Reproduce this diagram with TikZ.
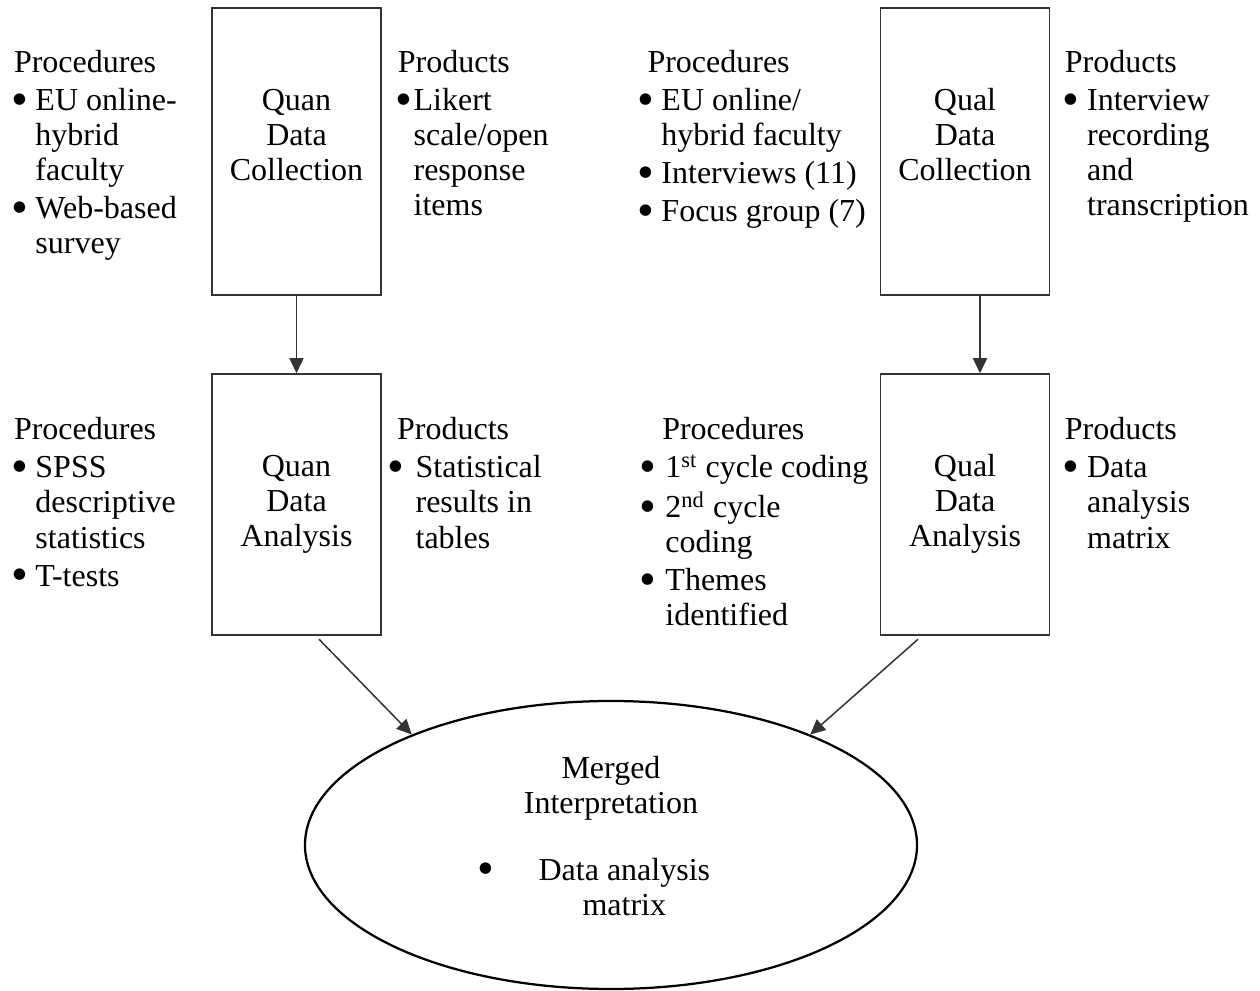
\documentclass[tikz,border=0pt]{standalone}
\usepackage{fontspec}
\setmainfont{Liberation Serif}
\usepackage{graphicx}
\usepackage{tikz}
\usetikzlibrary{arrows.meta}
\usetikzlibrary{shapes.geometric}
\usetikzlibrary{positioning}
\newcommand{\dotmark}{\makebox[0.35em][c]{\raisebox{-0.14em}{\scalebox{1.5}{\textbullet}}}}
\tikzset{
    stage/.style={draw=black!80, line width=.6pt, rectangle, minimum width=67.6pt, inner sep=0pt},
    stagetext/.style={inner sep=0pt, anchor=base},
    listtext/.style={inner sep=0pt, anchor=base west},
    merge/.style={draw=black, line width=.9pt, ellipse, inner sep=0pt,
        minimum width=244.8pt, minimum height=115.2pt},
    flow/.style={draw=black!80, line width=.6pt, -{Triangle[length=6pt,width=5.6pt]}},
}

\begin{document}
\begin{tikzpicture}[x=0.4pt, y=-0.4pt, font=\fontsize{12.8}{14}\selectfont]
		\useasboundingbox (0,0) rectangle (1260,991);

		% quantitative strand
		\node[stage, minimum height=114.8pt] (quancol) at (296.5,151.5) {};
		\node[stage, minimum height=104.4pt] (quanana) at (296.5,504.5) {};
		\node[stagetext] (quancoltxt) at (296.5,110.5) {\begin{tabular}[t]{@{}c@{}}Quan\\Data\\Collection\end{tabular}};
		\node[stagetext] (quananatxt) at (296.5,476.5) {\begin{tabular}[t]{@{}c@{}}Quan\\Data\\Analysis\end{tabular}};

		\node[listtext] (quancolproc) at (13.5,73) {\begin{tabular}[t]{@{}l@{\hspace{4.1pt}}l@{}}
			\multicolumn{2}{@{}l@{}}{Procedures}\\[1.2pt]
			\dotmark & EU online-\\
			& hybrid\\
			& faculty\\[1.2pt]
			\dotmark & Web-based\\
			& survey
		\end{tabular}};
		\node[listtext] (quancolprod) at (397.4,73) {\begin{tabular}[t]{@{}l@{\hspace{1.8pt}}l@{}}
			\multicolumn{2}{@{}l@{}}{Products}\\[1.2pt]
			\dotmark & Likert\\
			& scale/open\\
			& response\\
			& items
		\end{tabular}};
		\node[listtext] (quananaproc) at (13.5,440) {\begin{tabular}[t]{@{}l@{\hspace{4.1pt}}l@{}}
			\multicolumn{2}{@{}l@{}}{Procedures}\\[1.2pt]
			\dotmark & SPSS\\
			& descriptive\\
			& statistics\\[1.2pt]
			\dotmark & T-tests
		\end{tabular}};
		\node[listtext] (quananaprod) at (389.4,440) {\begin{tabular}[t]{@{}l@{\hspace{5.8pt}}l@{}}
			\multicolumn{2}{@{\hspace{2.9pt}}l@{}}{Products}\\[1.2pt]
			\dotmark & Statistical\\
			& results in\\
			& tables
		\end{tabular}};

		% qualitative strand
		\node[stage, minimum height=114.8pt] (qualcol) at (965,151.5) {};
		\node[stage, minimum height=104.4pt] (qualana) at (965,504.5) {};
		\node[stagetext] (qualcoltxt) at (965,110.5) {\begin{tabular}[t]{@{}c@{}}Qual\\Data\\Collection\end{tabular}};
		\node[stagetext] (qualanatxt) at (965,476.5) {\begin{tabular}[t]{@{}c@{}}Qual\\Data\\Analysis\end{tabular}};

		\node[listtext] (qualcolproc) at (640,73) {\begin{tabular}[t]{@{}l@{\hspace{3.9pt}}l@{}}
			\multicolumn{2}{@{\hspace{2.8pt}}l@{}}{Procedures}\\[1.2pt]
			\dotmark & EU online/\\
			& hybrid faculty\\[1.2pt]
			\dotmark & Interviews (11)\\[1.2pt]
			\dotmark & Focus group (7)
		\end{tabular}};
		\node[listtext] (qualcolprod) at (1064.4,73) {\begin{tabular}[t]{@{}l@{\hspace{4.4pt}}l@{}}
			\multicolumn{2}{@{}l@{}}{Products}\\[1.2pt]
			\dotmark & Interview\\
			& recording\\
			& and\\
			& transcription
		\end{tabular}};
		\node[listtext] (qualanaproc) at (642,440) {\begin{tabular}[t]{@{}l@{\hspace{4.7pt}}l@{}}
			\multicolumn{2}{@{\hspace{7.9pt}}l@{}}{Procedures}\\[1.2pt]
			\dotmark & 1\textsuperscript{st} cycle coding\\[1.2pt]
			\dotmark & 2\textsuperscript{nd} cycle\\
			& coding\\[1.2pt]
			\dotmark & Themes\\
			& identified
		\end{tabular}};
		\node[listtext] (qualanaprod) at (1064.4,440) {\begin{tabular}[t]{@{}l@{\hspace{4.4pt}}l@{}}
			\multicolumn{2}{@{}l@{}}{Products}\\[1.2pt]
			\dotmark & Data\\
			& analysis\\
			& matrix
		\end{tabular}};

		% merged interpretation
		\node[merge] (merged) at (611,845) {};
		\node[stagetext] (mergedtitle) at (611,778) {\begin{tabular}[t]{@{}c@{}}Merged\\Interpretation\end{tabular}};
		\node[listtext] (mergeditem) at (479.4,880) {\begin{tabular}[t]{@{}l@{\hspace{19pt}}c@{}}
			\dotmark & Data analysis\\
			& matrix
		\end{tabular}};

		\draw[flow] (quancol) -- (quanana);
		\draw[flow] ([xshift=6pt]qualcol.south) -- ([xshift=6pt]qualana.north);
		\draw[flow] ([xshift=9pt,yshift=-1.4pt]quanana.south) -- (merged.151);
		\draw[flow] ([xshift=-18.8pt,yshift=-1.4pt]qualana.south) -- (merged.29);
\end{tikzpicture}
\end{document}
